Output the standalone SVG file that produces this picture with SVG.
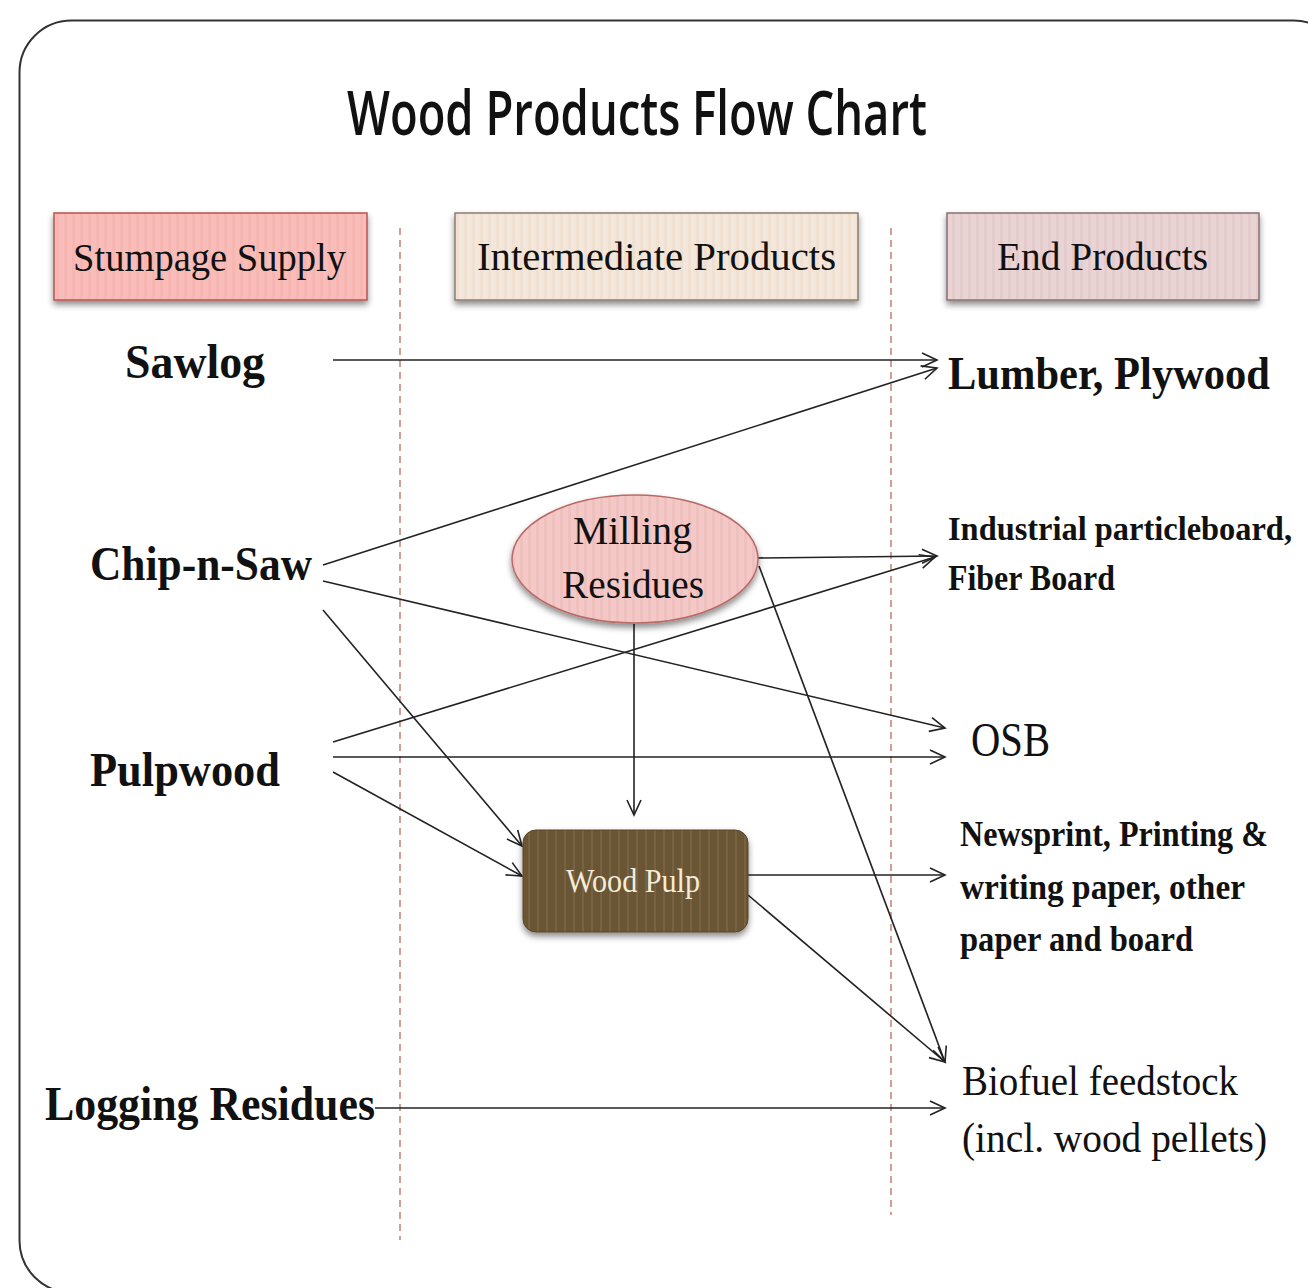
<svg xmlns="http://www.w3.org/2000/svg" width="1308" height="1288" viewBox="0 0 1308 1288">
  <defs>
    <style>
      .serif { font-family: "Liberation Serif", "DejaVu Serif", serif; fill: #111; }
      .lbl { font-size: 48px; font-weight: bold; }
      .prod { font-size: 35px; font-weight: bold; }
      .hdr { font-size: 40px; }
      .edge { stroke: #222; stroke-width: 1.6; fill: none; marker-end: url(#arrow); }
      .divider { stroke: #b0614f; stroke-width: 1.2; stroke-dasharray: 7 5; fill: none; }
    </style>
    <marker id="arrow" markerUnits="userSpaceOnUse" markerWidth="22" markerHeight="18" refX="17" refY="8" orient="auto">
      <path d="M2,1 L17,8 L2,15" fill="none" stroke="#222" stroke-width="1.6"/>
    </marker>
    <filter id="shadow" x="-10%" y="-10%" width="120%" height="140%">
      <feDropShadow dx="0" dy="4" stdDeviation="3" flood-color="#000" flood-opacity="0.45"/>
    </filter>
    <pattern id="stripePink" width="8" height="10" patternUnits="userSpaceOnUse">
      <rect width="8" height="10" fill="#f9bdb9"/>
      <rect width="3" height="10" fill="#f7b6b2"/>
    </pattern>
    <pattern id="stripeCream" width="8" height="10" patternUnits="userSpaceOnUse">
      <rect width="8" height="10" fill="#f3e7db"/>
      <rect width="3" height="10" fill="#efe0d1"/>
    </pattern>
    <pattern id="stripeMauve" width="8" height="10" patternUnits="userSpaceOnUse">
      <rect width="8" height="10" fill="#e9d3d4"/>
      <rect width="3" height="10" fill="#e4cbcc"/>
    </pattern>
    <pattern id="stripeRose" width="8" height="10" patternUnits="userSpaceOnUse">
      <rect width="8" height="10" fill="#f3c8c6"/>
      <rect width="3" height="10" fill="#eec0be"/>
    </pattern>
    <pattern id="stripeBrown" width="9" height="10" patternUnits="userSpaceOnUse">
      <rect width="9" height="10" fill="#6a5534"/>
      <rect x="6" width="2" height="10" fill="#776242"/>
    </pattern>
  </defs>

  <rect width="1308" height="1288" fill="#ffffff"/>

  <!-- outer frame -->
  <rect x="19.5" y="20.5" width="1326" height="1272" rx="52" ry="52" fill="none" stroke="#333" stroke-width="2"/>

  <!-- title -->
  <text x="637" y="135" text-anchor="middle" font-family="'Open Sans', 'DejaVu Sans', sans-serif" font-size="62" font-weight="600" fill="#111" textLength="580" lengthAdjust="spacingAndGlyphs">Wood Products Flow Chart</text>

  <!-- column dividers -->
  <g id="dividers">
    <line class="divider" x1="400" y1="228" x2="400" y2="1240"/>
    <line class="divider" x1="891" y1="228" x2="891" y2="1215"/>
  </g>

  <!-- column headers -->
  <g id="hdr-stumpage">
    <rect x="54" y="213" width="313" height="87" fill="url(#stripePink)" stroke="#b8544c" stroke-width="1.5" filter="url(#shadow)"/>
    <text class="serif hdr" x="73" y="271" textLength="273" lengthAdjust="spacingAndGlyphs">Stumpage Supply</text>
  </g>
  <g id="hdr-intermediate">
    <rect x="455" y="213" width="403" height="87" fill="url(#stripeCream)" stroke="#8c7e70" stroke-width="1.5" filter="url(#shadow)"/>
    <text class="serif hdr" x="477" y="270" textLength="359" lengthAdjust="spacingAndGlyphs">Intermediate Products</text>
  </g>
  <g id="hdr-end">
    <rect x="947" y="213" width="312" height="87" fill="url(#stripeMauve)" stroke="#857073" stroke-width="1.5" filter="url(#shadow)"/>
    <text class="serif hdr" x="997" y="270" textLength="211" lengthAdjust="spacingAndGlyphs">End Products</text>
  </g>

  <!-- connectors -->
  <g id="connectors">
    <line class="edge" x1="333" y1="360" x2="937" y2="360"/>
    <line class="edge" x1="323" y1="565" x2="937" y2="368"/>
    <line class="edge" x1="323" y1="581" x2="945" y2="728"/>
    <line class="edge" x1="323" y1="610" x2="522" y2="846"/>
    <line class="edge" x1="757" y1="558" x2="937" y2="556"/>
    <line class="edge" x1="634" y1="624" x2="634" y2="815"/>
    <line class="edge" x1="759" y1="566" x2="945" y2="1062"/>
    <line class="edge" x1="333" y1="742" x2="935" y2="557"/>
    <line class="edge" x1="333" y1="757" x2="945" y2="757"/>
    <line class="edge" x1="333" y1="772" x2="522" y2="876"/>
    <line class="edge" x1="748" y1="875" x2="945" y2="875"/>
    <line class="edge" x1="748" y1="895" x2="945" y2="1062"/>
    <line class="edge" x1="375" y1="1108" x2="945" y2="1108"/>
  </g>

  <!-- supply sources -->
  <g id="sawlog"><text class="serif lbl" x="125" y="378" textLength="140" lengthAdjust="spacingAndGlyphs">Sawlog</text></g>
  <g id="chip-n-saw"><text class="serif lbl" x="90" y="580" textLength="222" lengthAdjust="spacingAndGlyphs">Chip-n-Saw</text></g>
  <g id="pulpwood"><text class="serif lbl" x="90" y="786" textLength="190" lengthAdjust="spacingAndGlyphs">Pulpwood</text></g>
  <g id="logging-residues"><text class="serif lbl" x="45" y="1120" textLength="330" lengthAdjust="spacingAndGlyphs">Logging Residues</text></g>

  <!-- intermediate products -->
  <g id="milling-residues">
    <ellipse cx="635" cy="559" rx="123" ry="64" fill="url(#stripeRose)" stroke="#b86a66" stroke-width="1.5" filter="url(#shadow)"/>
    <text class="serif hdr" x="573" y="544" textLength="119" lengthAdjust="spacingAndGlyphs">Milling</text>
    <text class="serif hdr" x="562" y="598" textLength="142" lengthAdjust="spacingAndGlyphs">Residues</text>
  </g>
  <g id="wood-pulp">
    <rect x="523" y="830" width="225" height="102" rx="13" ry="13" fill="url(#stripeBrown)" stroke="#5a4628" stroke-width="1" filter="url(#shadow)"/>
    <text x="566" y="892" font-family="'Liberation Serif', 'DejaVu Serif', serif" font-size="33" fill="#f4ecd8" textLength="134" lengthAdjust="spacingAndGlyphs">Wood Pulp</text>
  </g>

  <!-- end products -->
  <g id="lumber-plywood"><text class="serif" x="948" y="389" font-size="46" font-weight="bold" textLength="322" lengthAdjust="spacingAndGlyphs">Lumber, Plywood</text></g>
  <g id="particleboard">
    <text class="serif" x="948" y="540" font-size="33" font-weight="bold" textLength="344" lengthAdjust="spacingAndGlyphs">Industrial particleboard,</text>
    <text class="serif prod" x="948" y="590" textLength="167" lengthAdjust="spacingAndGlyphs">Fiber Board</text>
  </g>
  <g id="osb"><text class="serif" x="971" y="756" font-size="48" textLength="79" lengthAdjust="spacingAndGlyphs">OSB</text></g>
  <g id="paper">
    <text class="serif prod" x="960" y="846" textLength="308" lengthAdjust="spacingAndGlyphs">Newsprint, Printing &amp;</text>
    <text class="serif prod" x="960" y="899" textLength="285" lengthAdjust="spacingAndGlyphs">writing paper, other</text>
    <text class="serif prod" x="960" y="951" textLength="233" lengthAdjust="spacingAndGlyphs">paper and board</text>
  </g>
  <g id="biofuel">
    <text class="serif" x="962" y="1095" font-size="42" textLength="276" lengthAdjust="spacingAndGlyphs">Biofuel feedstock</text>
    <text class="serif" x="962" y="1152" font-size="42" textLength="305" lengthAdjust="spacingAndGlyphs">(incl. wood pellets)</text>
  </g>
</svg>
